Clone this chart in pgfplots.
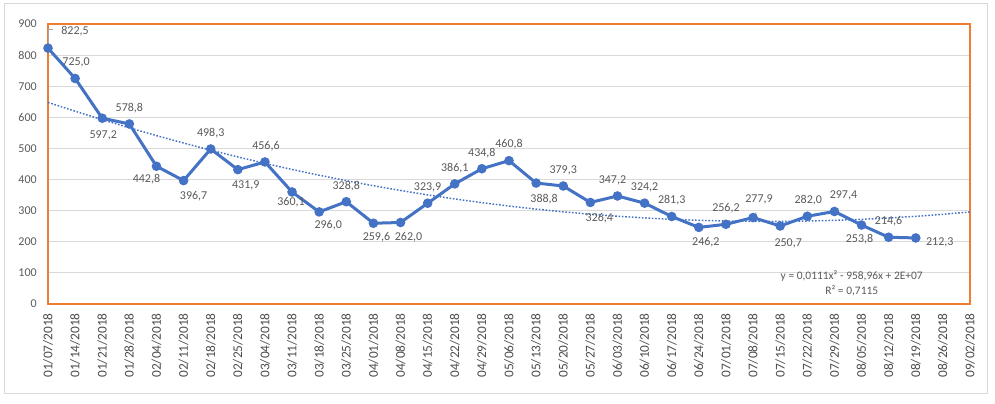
\documentclass[border=0pt]{standalone}
\usepackage{pgfplots}
\pgfplotsset{compat=1.18}
\usepackage{fontspec}
\setmainfont{Carlito}
\definecolor{xblue}{HTML}{4472C4}
\definecolor{xorange}{HTML}{ED7D31}
\definecolor{xgrid}{HTML}{D9D9D9}
\definecolor{xtext}{HTML}{595959}
\definecolor{xborder}{HTML}{D9D9D9}
\newcommand{\lab}[5]{\node[font=\fontsize{9}{10}\selectfont, text=xtext, inner sep=0pt] at (axis cs:#1,#2) [xshift=#3pt, yshift=#4pt] {#5};}
\begin{document}
\begin{tikzpicture}
\useasboundingbox (-36pt,-74.25pt) rectangle (710.25pt,228pt);
\draw[xborder, line width=0.75pt] (-32.6pt,-67.1pt) rectangle (704.25pt,225pt);
\begin{axis}[
  scale only axis,
  width=691.5pt, height=210pt,
  xmin=0, xmax=34, ymin=0, ymax=900,
  ytick={0,100,...,900},
  xtick={0,1,...,34},
  xticklabels={01/07/2018,01/14/2018,01/21/2018,01/28/2018,02/04/2018,02/11/2018,02/18/2018,02/25/2018,03/04/2018,03/11/2018,03/18/2018,03/25/2018,04/01/2018,04/08/2018,04/15/2018,04/22/2018,04/29/2018,05/06/2018,05/13/2018,05/20/2018,05/27/2018,06/03/2018,06/10/2018,06/17/2018,06/24/2018,07/01/2018,07/08/2018,07/15/2018,07/22/2018,07/29/2018,08/05/2018,08/12/2018,08/19/2018,08/26/2018,09/02/2018},
  /pgf/number format/assume math mode=true,
  yticklabel style={font=\fontsize{9}{10}\selectfont, text=xtext, anchor=east, inner sep=0pt, xshift=-8.25pt},
  xticklabel style={font=\fontsize{10}{11}\selectfont, text=xtext!85!black, rotate=90, anchor=east, inner sep=0pt},
  xticklabel shift=6.75pt,
  major tick length=0pt,
  ymajorgrids,
  major grid style={xgrid, line width=0.75pt},
  axis line style={draw=xorange, line width=1pt},
  clip=false,
]
% trendline (polynomial, order 2)
\addplot[xblue, line width=1.1pt, dash pattern=on 1.2pt off 1.3pt, no marks] coordinates {
(0,648.0)(1,619.7)(2,592.5)(3,566.4)(4,541.3)(5,517.4)(6,494.5)(7,472.7)(8,452.0)(9,432.4)
(10,413.9)(11,396.5)(12,380.1)(13,364.9)(14,350.7)(15,337.7)(16,325.7)(17,314.8)(18,305.0)(19,296.2)
(20,288.6)(21,282.1)(22,276.6)(23,272.2)(24,268.9)(25,266.8)(26,265.6)(27,265.6)(28,266.7)(29,268.9)
(30,272.1)(31,276.4)(32,281.9)(33,288.4)(34,296.0)};
\addplot[xblue, line width=2.25pt, mark=*, mark size=2.4pt, mark options={solid}] coordinates {
(0,822.5)(1,725.0)(2,597.2)(3,578.8)(4,442.8)(5,396.7)(6,498.3)(7,431.9)(8,456.6)(9,360.1)
(10,296.0)(11,328.8)(12,259.6)(13,262.0)(14,323.9)(15,386.1)(16,434.8)(17,460.8)(18,388.8)(19,379.3)
(20,326.4)(21,347.2)(22,324.2)(23,281.3)(24,246.2)(25,256.2)(26,277.9)(27,250.7)(28,282.0)(29,297.4)
(30,253.8)(31,214.6)(32,212.3)};
% leader lines
\draw[gray!70, line width=0.5pt] (axis cs:0,822.5) -- ++(0,14.25pt) -- ++(4pt,0);
\draw[gray!70, line width=0.5pt] (axis cs:21,347.2) -- ++(-2.5pt,3pt);
\draw[gray!70, line width=0.5pt] (axis cs:26,277.9) -- ++(2.5pt,4pt);
\draw[gray!70, line width=0.5pt] (axis cs:29,297.4) -- ++(3pt,2.5pt);
% data labels
\lab{0}{822.5}{20.25}{12.75}{822,5}
\lab{1}{725.0}{0.75}{12}{725,0}
\lab{2}{597.2}{0.75}{-12.75}{597,2}
\lab{3}{578.8}{0}{12}{578,8}
\lab{4}{442.8}{-7.5}{-9.75}{442,8}
\lab{5}{396.7}{7.5}{-12}{396,7}
\lab{6}{498.3}{0}{12}{498,3}
\lab{7}{431.9}{6}{-12}{431,9}
\lab{8}{456.6}{0.75}{12}{456,6}
\lab{9}{360.1}{-0.75}{-7.5}{360,1}
\lab{10}{296.0}{6.75}{-9.75}{296,0}
\lab{11}{328.8}{0}{12}{328,8}
\lab{12}{259.6}{2.25}{-10.5}{259,6}
\lab{13}{262.0}{6}{-11.25}{262,0}
\lab{14}{323.9}{0}{12}{323,9}
\lab{15}{386.1}{0}{12}{386,1}
\lab{16}{434.8}{0}{12}{434,8}
\lab{17}{460.8}{0}{12}{460,8}
\lab{18}{388.8}{6}{-12}{388,8}
\lab{19}{379.3}{0}{12}{379,3}
\lab{20}{326.4}{6.75}{-12}{326,4}
\lab{21}{347.2}{-3.75}{12}{347,2}
\lab{22}{324.2}{0}{12}{324,2}
\lab{23}{281.3}{0}{12}{281,3}
\lab{24}{246.2}{5.25}{-11.25}{246,2}
\lab{25}{256.2}{0}{12}{256,2}
\lab{26}{277.9}{4.5}{13.5}{277,9}
\lab{27}{250.7}{6}{-12.75}{250,7}
\lab{28}{282.0}{0.75}{12}{282,0}
\lab{29}{297.4}{6.75}{12}{297,4}
\lab{30}{253.8}{-1.5}{-10.5}{253,8}
\lab{31}{214.6}{0}{12}{214,6}
\lab{32}{212.3}{18}{-3}{212,3}
\end{axis}
\node[font=\fontsize{8.6}{9.5}\selectfont, text=xtext, inner sep=0pt] at (602.8pt,21pt) {y = 0,0111x² - 958,96x + 2E+07};
\node[font=\fontsize{8.6}{9.5}\selectfont, text=xtext, inner sep=0pt] at (602.8pt,9.75pt) {R² = 0,7115};
\end{tikzpicture}
\end{document}
